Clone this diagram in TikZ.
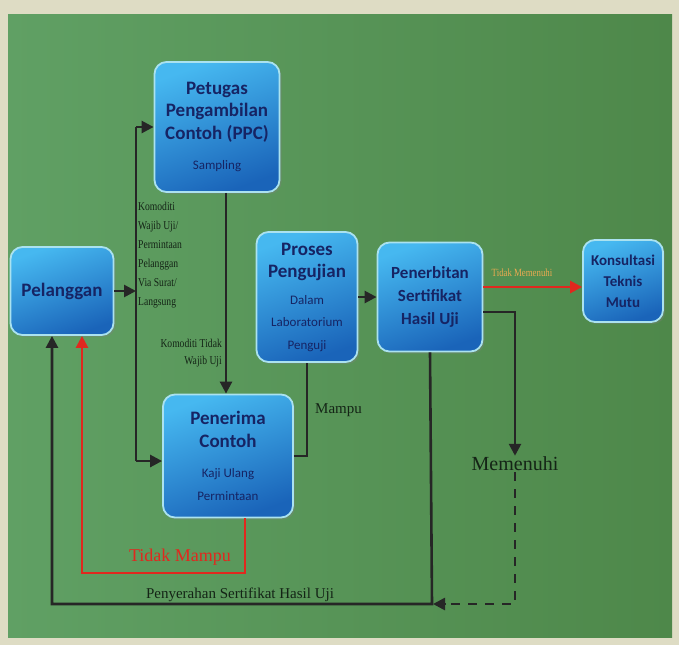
\documentclass[tikz,border=0pt]{standalone}
\usepackage{fontspec}
\setmainfont{Liberation Serif}
\newfontfamily\boxfont{Carlito}
\newfontfamily\narrowserif[FakeStretch=0.8]{Liberation Serif}
\newcommand{\subfont}{\boxfont\mdseries\fontsize{13}{19}\selectfont}
\usetikzlibrary{arrows.meta,shadows}
\definecolor{paper}{RGB}{222,220,196}
\definecolor{greenL}{RGB}{96,160,100}
\definecolor{greenR}{RGB}{78,136,74}
\definecolor{boxtop}{RGB}{70,184,240}
\definecolor{boxbot}{RGB}{26,100,185}
\definecolor{boxrim}{RGB}{170,226,240}
\definecolor{boxtext}{RGB}{22,36,100}
\definecolor{labeltext}{RGB}{20,36,22}
\definecolor{redline}{RGB}{225,40,30}
\definecolor{orangetext}{RGB}{235,170,80}
\begin{document}
\begin{tikzpicture}[x=1pt,y=-1pt]

    \tikzset{
      block/.style={
        draw=boxrim,
        line width=1.8pt,
        rounded corners=12pt,
        top color=boxtop,
        bottom color=boxbot,
        shading angle=20,
        drop shadow={opacity=0.35,shadow xshift=2pt,shadow yshift=-2pt},
        align=center,
        text=boxtext,
        inner sep=2pt,
        font=\boxfont\bfseries\fontsize{19}{22.5}\selectfont,
      },
      conn/.style={line width=2.6pt, draw=black!85},
      flow/.style={conn, -{Triangle[length=12pt,width=12pt]}},
      flowred/.style={conn, draw=redline, -{Triangle[length=12pt,width=12pt]}},
      note/.style={text=labeltext, inner sep=1pt},
    }
    \useasboundingbox (0,0) rectangle (679,645);
    \fill[paper] (0,0) rectangle (679,645);
    \shade[left color=greenL, right color=greenR] (8,14) rectangle (672,637);

	% boxes
	\node[block, minimum width=125pt, minimum height=130pt] (ppc) at (217,127)
	  {Petugas\\Pengambilan\\Contoh (PPC)\\[8pt]{\subfont Sampling}};
	\node[block, minimum width=103pt, minimum height=88pt] (pel) at (62,291) {Pelanggan};
	\node[block, minimum width=101pt, minimum height=130pt] (proses) at (307,297)
	  {Proses\\Pengujian\\[4pt]{\subfont Dalam}\\{\subfont Laboratorium}\\{\subfont Penguji}};
	\node[block, minimum width=105pt, minimum height=109pt,
	  font=\boxfont\bfseries\fontsize{17}{23}\selectfont] (terbit) at (430,297)
	  {Penerbitan\\Sertifikat\\Hasil Uji};
	\node[block, minimum width=80pt, minimum height=82pt,
	  font=\boxfont\bfseries\fontsize{15}{21}\selectfont] (konsul) at (623,281)
	  {Konsultasi\\Teknis\\Mutu};
	\node[block, minimum width=130pt, minimum height=123pt] (terima) at (228,456)
	  {Penerima\\Contoh\\[8pt]{\subfont Kaji Ulang}\\{\subfont Permintaan}};

	% helper points
	\coordinate (spine) at (136,0);
	\coordinate (vx) at (226,0);
	\coordinate (rb) at (432,604);
	\coordinate (lb) at (52,604);
	\coordinate (rr) at (82,573);

	\node[note, font=\fontsize{20}{22}\selectfont] (memenuhi) at (515,464) {Memenuhi};

	% connectors
	\draw[flow] (pel.east) -- (spine |- pel.east);
	\draw[conn] (spine |- ppc.west) -- ([yshift=-5pt]spine |- terima.west);
	\draw[flow] (spine |- ppc.west) -- (ppc.west);
	\draw[flow] ([yshift=-5pt]spine |- terima.west) -- ([yshift=-5pt]terima.west);
	\draw[flow] (vx |- ppc.south) -- (vx |- terima.north);
	\draw[conn] (terima.east) -| (proses.south);
	\draw[flow] (proses.east) -- (terbit.west);
	\draw[flowred] ([yshift=10pt]terbit.east) -- ([yshift=10pt]terbit.east -| konsul.west);
	\draw[flow] ([yshift=-15pt]terbit.east) -| (memenuhi.north);
	\draw[conn, dash pattern=on 9pt off 8pt] (memenuhi.south) |- ([xshift=12pt]rb);
	\draw[flow] ([xshift=14pt]rb) -- ([xshift=1pt]rb);
	\draw[flow] (terbit.south) -- (rb) -- (lb) -- (lb |- pel.south);
	\draw[flowred] ([xshift=17pt]terima.south) |- (rr) -- (rr |- pel.south);

	% labels
	\node[note, anchor=west, align=left, font=\narrowserif\fontsize{12}{19}\selectfont] (wajib) at (137,255)
	  {Komoditi\\Wajib Uji/\\Permintaan\\Pelanggan\\Via Surat/\\Langsung};
	\node[note, anchor=east, align=right, font=\narrowserif\fontsize{12}{17}\selectfont] (tidakwajib) at (223,353)
	  {Komoditi Tidak\\Wajib Uji};
	\node[note, anchor=west, font=\fontsize{15}{17}\selectfont] (mampu) at (314,410) {Mampu};
	\node[note, text=orangetext, font=\narrowserif\fontsize{11}{12}\selectfont] (tmemenuhi) at (522,273) {Tidak Memenuhi};
	\node[note, text=redline, font=\fontsize{18}{20}\selectfont] (tmampu) at (180,557) {Tidak Mampu};
	\node[note, font=\fontsize{15}{17}\selectfont] (serah) at (240,595) {Penyerahan Sertifikat Hasil Uji};

\end{tikzpicture}
\end{document}
